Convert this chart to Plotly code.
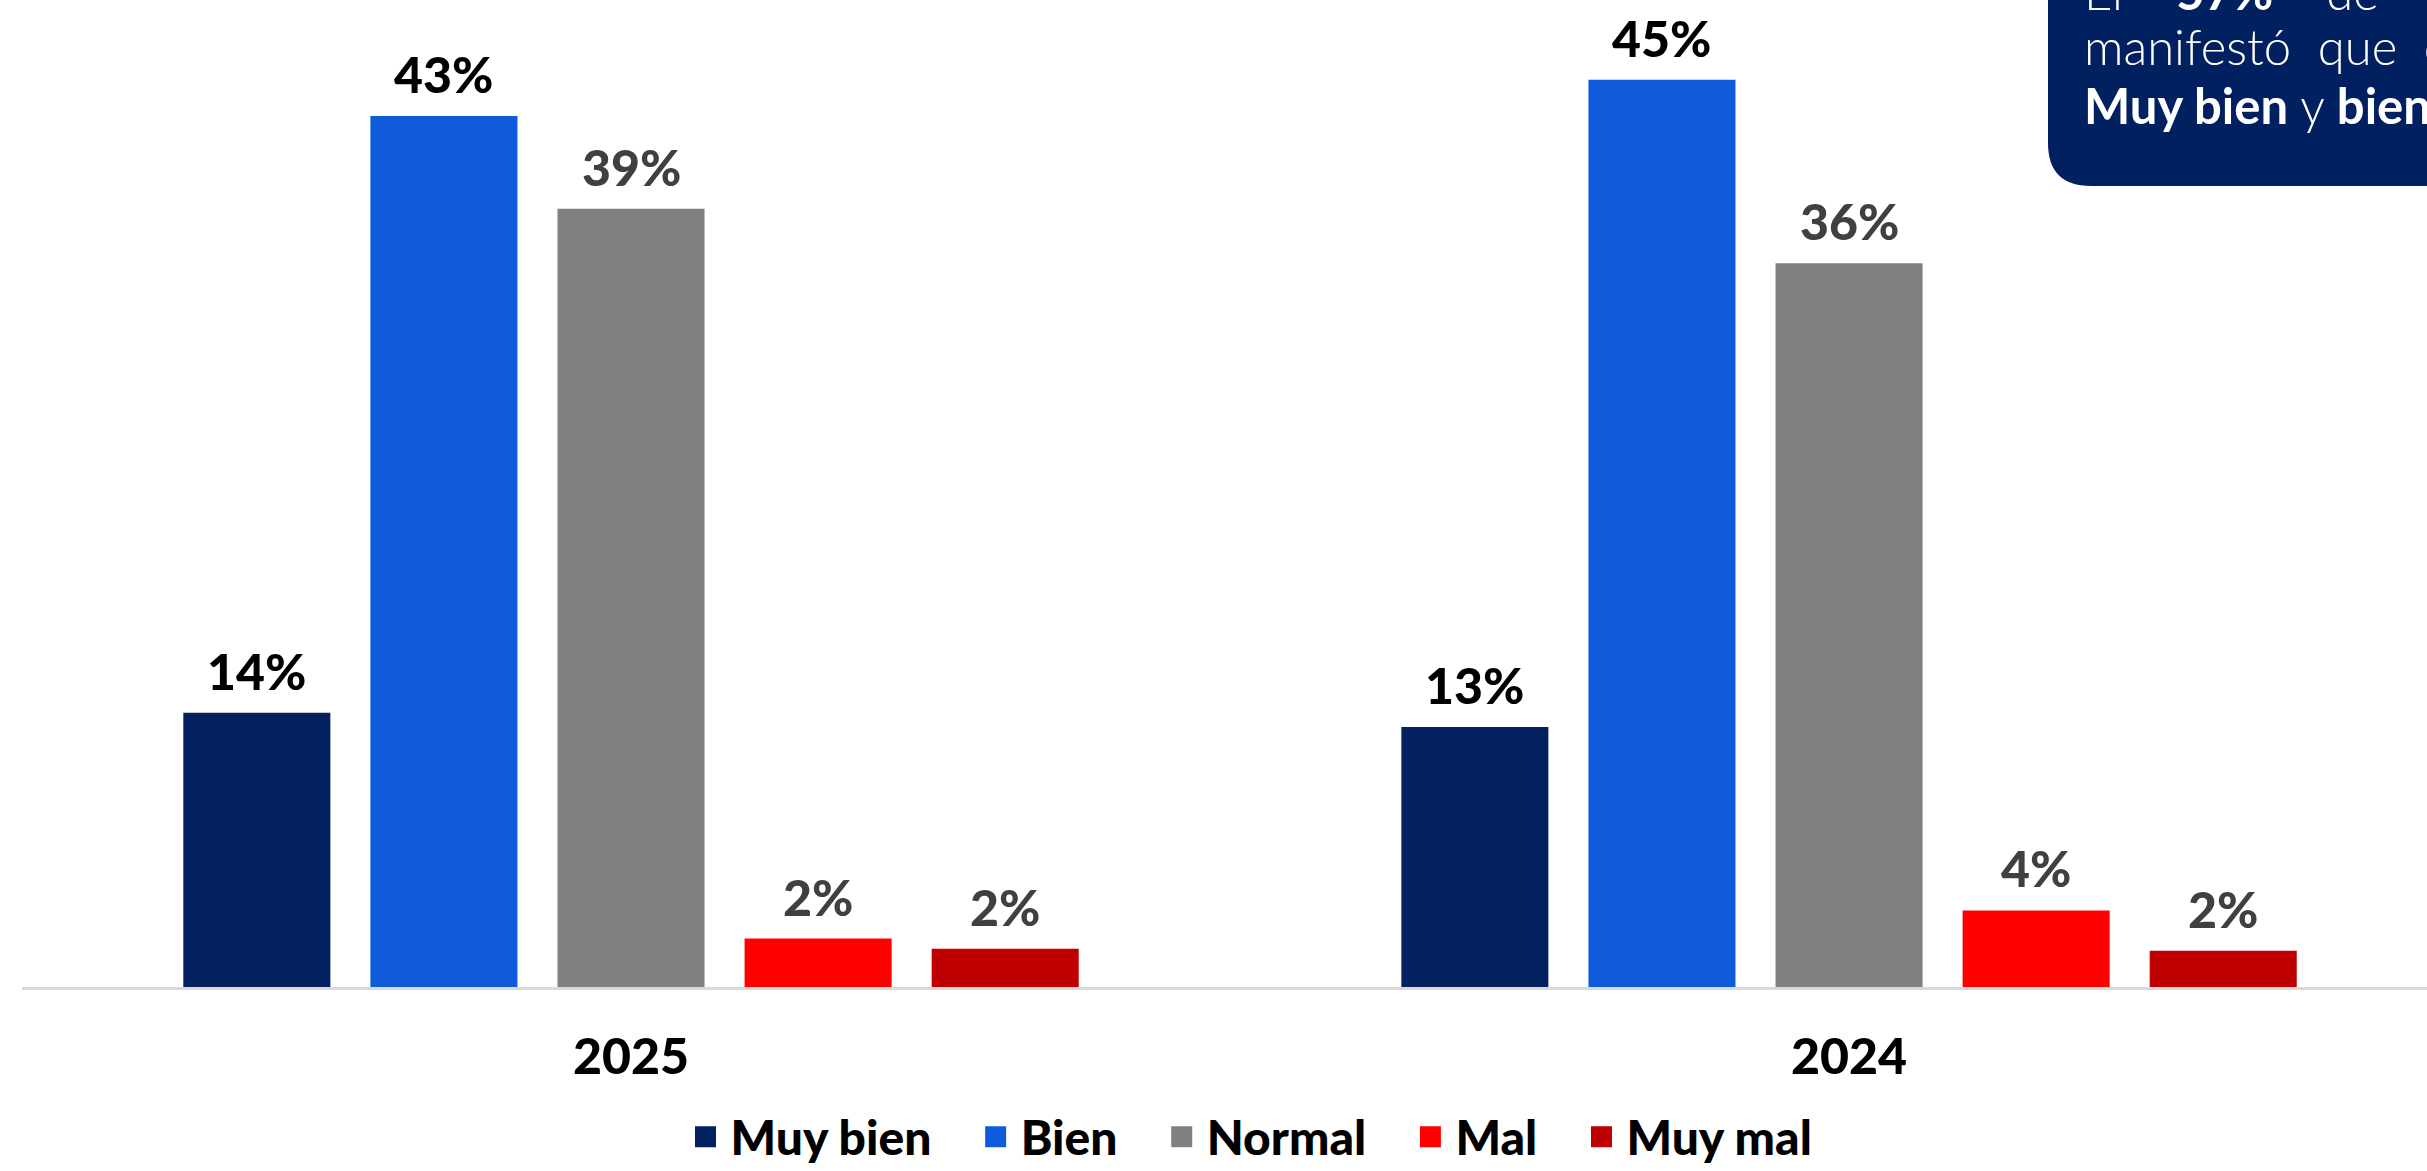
import plotly.graph_objects as go

# ---- data ----
years = ["2025", "2024"]
series_names = ["Muy bien", "Bien", "Normal", "Mal", "Muy mal"]
muy_bien = [13.6, 12.9]
bien = [43.2, 45.0]
normal = [38.6, 35.9]
mal = [2.4, 3.8]
muy_mal = [1.9, 1.8]

series_values = [muy_bien, bien, normal, mal, muy_mal]
colors = ["#03215E", "#0F5BDC", "#808080", "#FF0000", "#C00000"]
label_colors = ["#000000", "#000000", "#404040", "#404040", "#404040"]

FONT = "Lato, 'Open Sans', sans-serif"
W, H = 2427, 1171
ML, MR, MT, MB = 22, 0, 0, 184
BARGAP, BARGROUPGAP = 0.232, 0.214

fig = go.Figure()
for name, vals, col in zip(series_names, series_values, colors):
    fig.add_trace(go.Bar(
        name=name, x=years, y=vals,
        marker=dict(color=col, line=dict(width=0)),
        showlegend=False, hoverinfo="skip",
    ))
# legend entries (larger square swatches than bar legend symbols allow)
for k, (name, col) in enumerate(zip(series_names, colors)):
    pad = "" if k == len(series_names) - 1 else "\u00a0\u00a0\u00a0"
    fig.add_trace(go.Scatter(
        name=name + pad, x=[None], y=[None], mode="markers",
        marker=dict(symbol="square", size=16, color=col,
                    line=dict(color=col, width=5)),
        showlegend=True, hoverinfo="skip",
    ))

# pixel -> paper helpers for the callout box / legend
pw = W - ML - MR
ph = H - MT - MB
def px(p):
    return (p - ML) / pw
def py(y):
    return (H - MB - y) / ph

annotations = []
# value labels above each bar, placed on the category axis scale
n = len(series_names)
gw = 1 - BARGAP
slot = gw / n
for i, (vals, lcol) in enumerate(zip(series_values, label_colors)):
    for j, v in enumerate(vals):
        annotations.append(dict(
            x=j - gw / 2 + slot * (i + 0.5), y=v, xref="x", yref="y",
            text=f"{round(v)}%", showarrow=False,
            xanchor="center", yanchor="bottom", yshift=10,
            font=dict(family=FONT, size=50, color=lcol, weight=900),
        ))

x0, x1 = px(2048), px(2520)
yb, yt = py(186), py(-120)
rx, ry = 43 / pw, 43 / ph
path = (f"M {x0},{yt} L {x0},{yb + ry} Q {x0},{yb} {x0 + rx},{yb} "
        f"L {x1},{yb} L {x1},{yt} Z")
shapes = [dict(type="path", xref="paper", yref="paper", path=path,
               fillcolor="#01205F", line=dict(width=0), layer="above")]

box_lines = [
    ("El\u00a0\u00a0\u00a0\u00a0<b>57%</b>\u00a0\u00a0\u00a0\u00a0de\u00a0\u00a0\u00a0\u00a0las", 8),
    ("manifestó\u00a0\u00a0que\u00a0\u00a0c", 63),
    ("<b>Muy bien</b> y <b>bien.</b>", 122),
]
for txt, base in box_lines:
    annotations.append(dict(
        text=txt, xref="paper", yref="paper", x=px(2082), y=py(base + 14),
        xanchor="left", yanchor="bottom", showarrow=False, align="left",
        font=dict(family=FONT, size=49, color="#FFFFFF", weight=300),
    ))

fig.update_layout(
    width=W, height=H,
    margin=dict(l=ML, r=MR, t=MT, b=MB, autoexpand=False),
    paper_bgcolor="#FFFFFF", plot_bgcolor="#FFFFFF",
    barmode="group", bargap=BARGAP, bargroupgap=BARGROUPGAP,
    showlegend=True,
    legend=dict(orientation="h", x=px(1249), xanchor="center",
                y=py(1137), yanchor="middle",
                font=dict(family=FONT, size=48, color="#000000", weight=900),
                itemsizing="trace", itemwidth=40, traceorder="normal"),
    xaxis=dict(type="category", range=[-0.5, 1.4745], showgrid=False,
               showline=True, linecolor="#D9D9D9", linewidth=3, ticks="",
               ticklabelstandoff=24,
               tickfont=dict(family=FONT, size=50, color="#000000", weight=900),
               fixedrange=True),
    yaxis=dict(range=[0, 48.96], visible=False, showgrid=False, zeroline=False,
               fixedrange=True),
    shapes=shapes,
    annotations=annotations,
)

fig.write_html("out.html", config={"displayModeBar": False},
               post_script="document.body.style.margin='0';")
